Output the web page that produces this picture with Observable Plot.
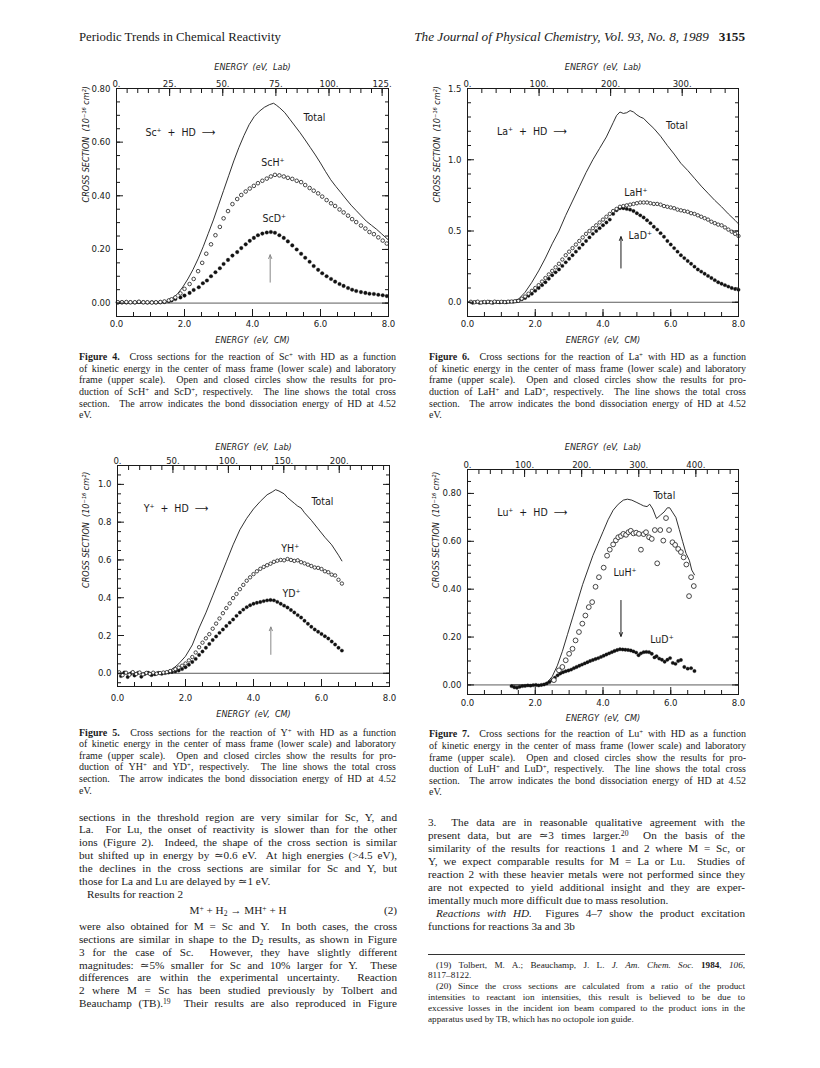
<!DOCTYPE html>
<html lang="en"><head><meta charset="utf-8"><title>Periodic Trends in Chemical Reactivity</title>
<script src="https://cdn.jsdelivr.net/npm/d3@7"></script>
<script src="https://cdn.jsdelivr.net/npm/@observablehq/plot@0.6"></script>
<style>
html,body{margin:0;padding:0;background:#fff;}
#page{position:relative;width:820px;height:1068px;overflow:hidden;background:#fff;color:#1a1a1a;font-family:"Liberation Serif","DejaVu Serif",serif;}
.abs{position:absolute;}
.hdr{line-height:14px;white-space:nowrap;}
.cap{font-size:10px;line-height:11.65px;}
.txt{font-size:11.2px;line-height:12.9px;}
.fn{font-size:9.2px;line-height:10.8px;}
.cap div,.txt div,.fn div{text-align:justify;text-align-last:justify;white-space:normal;}
.cap div.last,.txt div.last,.fn div.last{text-align-last:left;}
.ind{padding-left:8px;}
sup{font-size:0.68em;vertical-align:0.45em;line-height:0;}
sub{font-size:0.68em;vertical-align:-0.2em;line-height:0;}
.plot{position:absolute;}
.plot svg{overflow:visible;}
</style></head>
<body><div id="page"></div>
<script>
// ---------- constants ----------
const HD_MASS = 3;
const SC_MASS = 45, Y_MASS = 89, LA_MASS = 139, LU_MASS = 175;

// ---------- Figure 4: Sc+ + HD ----------
const scLabMajor = [0, 25, 50, 75, 100, 125];
const scYTicks = [0, 0.2, 0.4, 0.6, 0.8];
const scTotal = [[0.0,0.0],[1.3,0.001],[1.5,0.006],[1.65,0.018],[1.8,0.035],[1.95,0.06],[2.1,0.09],[2.25,0.125],[2.4,0.165],[2.55,0.21],[2.7,0.26],[2.85,0.31],[3.0,0.365],[3.15,0.42],[3.3,0.475],[3.45,0.53],[3.6,0.58],[3.75,0.625],[3.9,0.665],[4.05,0.695],[4.2,0.715],[4.35,0.73],[4.5,0.74],[4.62,0.745],[4.7,0.738],[4.8,0.728],[4.95,0.71],[5.1,0.685],[5.25,0.66],[5.4,0.635],[5.55,0.608],[5.7,0.58],[5.85,0.552],[6.0,0.522],[6.15,0.49],[6.3,0.46],[6.45,0.435],[6.6,0.412],[6.75,0.388],[6.9,0.365],[7.05,0.345],[7.2,0.325],[7.35,0.305],[7.5,0.29],[7.65,0.275],[7.8,0.258],[8.0,0.235]];
const scOpen = [[0.04,0.003],[0.16,0.003],[0.29,0.004],[0.41,0.003],[0.54,0.003],[0.66,0.005],[0.79,0.003],[0.91,0.003],[1.04,0.002],[1.16,0.003],[1.29,0.004],[1.41,0.006],[1.54,0.01],[1.62,0.014],[1.73,0.021],[1.88,0.036],[2.00,0.053],[2.15,0.071],[2.27,0.09],[2.40,0.119],[2.52,0.15],[2.64,0.184],[2.78,0.219],[2.91,0.253],[3.04,0.284],[3.15,0.316],[3.28,0.343],[3.41,0.369],[3.55,0.388],[3.67,0.403],[3.80,0.416],[3.92,0.427],[4.04,0.437],[4.16,0.447],[4.29,0.456],[4.42,0.464],[4.54,0.472],[4.66,0.478],[4.79,0.476],[4.92,0.472],[5.04,0.467],[5.17,0.463],[5.30,0.456],[5.43,0.451],[5.55,0.44],[5.68,0.429],[5.80,0.419],[5.93,0.409],[6.05,0.397],[6.18,0.384],[6.31,0.372],[6.43,0.362],[6.56,0.349],[6.68,0.338],[6.81,0.326],[6.93,0.313],[7.05,0.302],[7.19,0.289],[7.32,0.278],[7.44,0.265],[7.57,0.257],[7.70,0.245],[7.83,0.233],[7.95,0.222]];
const scFilled = [[0.04,0.002],[0.16,0.003],[0.29,0.002],[0.41,0.003],[0.54,0.002],[0.66,0.004],[0.79,0.003],[0.91,0.002],[1.04,0.003],[1.16,0.002],[1.29,0.003],[1.41,0.004],[1.54,0.007],[1.62,0.01],[1.73,0.015],[1.88,0.021],[2.00,0.028],[2.15,0.038],[2.27,0.049],[2.42,0.059],[2.54,0.074],[2.66,0.084],[2.78,0.10],[2.91,0.115],[3.04,0.13],[3.15,0.146],[3.28,0.161],[3.41,0.177],[3.55,0.19],[3.67,0.205],[3.80,0.219],[3.92,0.232],[4.04,0.243],[4.16,0.253],[4.29,0.259],[4.42,0.263],[4.54,0.265],[4.66,0.262],[4.79,0.253],[4.92,0.243],[5.04,0.23],[5.17,0.215],[5.30,0.20],[5.43,0.184],[5.55,0.169],[5.68,0.154],[5.80,0.138],[5.93,0.124],[6.05,0.111],[6.18,0.10],[6.31,0.09],[6.43,0.08],[6.56,0.071],[6.68,0.064],[6.81,0.056],[6.93,0.05],[7.05,0.045],[7.19,0.041],[7.32,0.038],[7.44,0.035],[7.57,0.034],[7.70,0.031],[7.83,0.029],[7.95,0.026]];
const scArrow = [{x: 4.52, y1: 0.078, y2: 0.18}];
const scReaction = [{x: 0.85, y: 0.635, text: "Sc\u207A\u00A0\u00A0+\u00A0\u00A0HD\u00A0\u00A0\u27F6"}];
const scSpecies = [{x: 5.82, y: 0.69, text: "Total"}, {x: 4.6, y: 0.522, text: "ScH\u207A"}, {x: 4.64, y: 0.315, text: "ScD\u207A"}];

// ---------- Figure 6: La+ + HD ----------
const laLabMajor = [0, 100, 200, 300];
const laYTicks = [0, 0.5, 1.0, 1.5];
const laTotal = [[0.0,0.0],[1.3,0.0],[1.5,0.02],[1.7,0.07],[1.9,0.14],[2.1,0.22],[2.3,0.31],[2.5,0.41],[2.7,0.50],[2.9,0.61],[3.1,0.71],[3.3,0.81],[3.5,0.91],[3.7,1.00],[3.9,1.08],[4.1,1.16],[4.3,1.26],[4.4,1.31],[4.5,1.335],[4.6,1.325],[4.7,1.33],[4.8,1.345],[4.9,1.335],[5.0,1.315],[5.1,1.30],[5.2,1.29],[5.3,1.265],[5.5,1.22],[5.7,1.165],[5.9,1.10],[6.1,1.04],[6.3,0.975],[6.5,0.925],[6.7,0.87],[6.9,0.815],[7.1,0.765],[7.3,0.715],[7.5,0.67],[7.7,0.62],[7.9,0.575],[8.0,0.55]];
const laOpen = [[0.1,0.003],[0.2,0.0],[0.3,0.004],[0.4,-0.002],[0.5,0.002],[0.6,0.003],[0.7,-0.001],[0.8,0.004],[0.9,0.002],[1.0,0.003],[1.1,0.001],[1.2,0.004],[1.3,0.005],[1.4,0.007],[1.5,0.01],[1.6,0.025],[1.7,0.04],[1.8,0.06],[1.9,0.08],[2.0,0.10],[2.1,0.12],[2.2,0.145],[2.3,0.17],[2.4,0.195],[2.5,0.22],[2.6,0.245],[2.7,0.27],[2.8,0.30],[2.9,0.33],[3.0,0.355],[3.1,0.38],[3.2,0.405],[3.3,0.43],[3.4,0.455],[3.5,0.48],[3.6,0.50],[3.7,0.52],[3.8,0.54],[3.9,0.56],[4.0,0.58],[4.1,0.60],[4.2,0.62],[4.3,0.64],[4.4,0.655],[4.5,0.67],[4.6,0.675],[4.7,0.68],[4.8,0.685],[4.9,0.69],[5.0,0.695],[5.1,0.70],[5.2,0.70],[5.3,0.70],[5.4,0.695],[5.5,0.69],[5.6,0.69],[5.7,0.685],[5.8,0.675],[5.9,0.67],[6.0,0.665],[6.1,0.66],[6.2,0.65],[6.3,0.645],[6.4,0.64],[6.5,0.635],[6.6,0.625],[6.7,0.62],[6.8,0.61],[6.9,0.60],[7.0,0.59],[7.1,0.58],[7.2,0.565],[7.3,0.555],[7.4,0.545],[7.5,0.54],[7.6,0.525],[7.7,0.51],[7.8,0.495],[7.9,0.48],[8.0,0.465]];
const laFilled = [[0.15,-0.003],[0.25,0.001],[0.35,-0.004],[0.45,0.0],[0.55,-0.002],[0.65,0.002],[0.75,-0.003],[0.85,0.001],[0.95,-0.001],[1.05,0.002],[1.15,0.0],[1.25,0.003],[1.35,0.004],[1.45,0.008],[1.5,0.01],[1.6,0.02],[1.7,0.03],[1.8,0.045],[1.9,0.06],[2.0,0.08],[2.1,0.10],[2.2,0.12],[2.3,0.14],[2.4,0.165],[2.5,0.19],[2.6,0.21],[2.7,0.23],[2.8,0.255],[2.9,0.28],[3.0,0.305],[3.1,0.33],[3.2,0.355],[3.3,0.38],[3.4,0.405],[3.5,0.43],[3.6,0.455],[3.7,0.48],[3.8,0.50],[3.9,0.52],[4.0,0.54],[4.1,0.56],[4.2,0.58],[4.3,0.62],[4.4,0.645],[4.5,0.66],[4.6,0.66],[4.7,0.655],[4.8,0.65],[4.9,0.64],[5.0,0.625],[5.1,0.61],[5.2,0.595],[5.3,0.575],[5.4,0.555],[5.5,0.53],[5.6,0.51],[5.7,0.485],[5.8,0.46],[5.9,0.43],[6.0,0.405],[6.1,0.38],[6.2,0.355],[6.3,0.33],[6.4,0.31],[6.5,0.29],[6.6,0.27],[6.7,0.25],[6.8,0.23],[6.9,0.215],[7.0,0.20],[7.1,0.185],[7.2,0.17],[7.3,0.155],[7.4,0.14],[7.5,0.13],[7.6,0.12],[7.7,0.11],[7.8,0.10],[7.9,0.093],[8.0,0.088]];
const laArrow = [{x: 4.53, y1: 0.24, y2: 0.46}];
const laReaction = [{x: 0.87, y: 1.196, text: "La\u207A\u00A0\u00A0+\u00A0\u00A0HD\u00A0\u00A0\u27F6"}];
const laSpecies = [{x: 6.18, y: 1.24, text: "Total"}, {x: 4.97, y: 0.77, text: "LaH\u207A"}, {x: 5.1, y: 0.465, text: "LaD\u207A"}];

// ---------- Figure 5: Y+ + HD ----------
const yLabMajor = [0, 50, 100, 150, 200];
const yYTicks = [0, 0.2, 0.4, 0.6, 0.8, 1.0];
const yTotal = [[0.0,0.0],[1.4,0.0],[1.6,0.02],[1.8,0.05],[2.0,0.09],[2.2,0.15],[2.4,0.24],[2.6,0.32],[2.8,0.41],[3.0,0.50],[3.2,0.59],[3.4,0.68],[3.6,0.76],[3.8,0.82],[4.0,0.87],[4.2,0.91],[4.4,0.945],[4.55,0.96],[4.65,0.972],[4.75,0.965],[4.9,0.95],[5.0,0.93],[5.2,0.90],[5.3,0.885],[5.4,0.875],[5.5,0.85],[5.7,0.81],[5.9,0.765],[6.1,0.72],[6.3,0.68],[6.5,0.625],[6.6,0.595]];
const yOpen = [[0.05,0.005],[0.15,-0.01],[0.25,0.003],[0.35,-0.008],[0.45,0.006],[0.55,-0.004],[0.65,0.004],[0.75,-0.006],[0.85,0.002],[0.95,-0.003],[1.05,0.003],[1.15,-0.002],[1.25,0.001],[1.35,0.004],[1.45,0.006],[1.55,0.012],[1.65,0.018],[1.7,0.022],[1.8,0.03],[1.9,0.04],[2.0,0.052],[2.1,0.068],[2.2,0.086],[2.3,0.11],[2.4,0.138],[2.5,0.162],[2.6,0.185],[2.7,0.207],[2.8,0.236],[2.9,0.263],[3.0,0.29],[3.1,0.318],[3.2,0.345],[3.3,0.37],[3.4,0.398],[3.5,0.42],[3.6,0.445],[3.7,0.468],[3.8,0.49],[3.9,0.508],[4.0,0.525],[4.1,0.54],[4.2,0.553],[4.3,0.563],[4.4,0.572],[4.5,0.58],[4.6,0.59],[4.7,0.596],[4.8,0.6],[4.9,0.598],[5.0,0.605],[5.1,0.6],[5.2,0.595],[5.3,0.598],[5.4,0.588],[5.5,0.582],[5.6,0.575],[5.7,0.568],[5.8,0.56],[5.9,0.558],[6.0,0.552],[6.1,0.54],[6.2,0.535],[6.3,0.522],[6.4,0.518],[6.5,0.495],[6.6,0.475]];
const yFilled = [[0.1,-0.015],[0.2,0.004],[0.3,-0.02],[0.4,0.0],[0.5,-0.012],[0.6,0.002],[0.7,-0.018],[0.8,-0.004],[0.9,0.003],[1.0,-0.01],[1.1,-0.005],[1.2,0.002],[1.3,-0.003],[1.4,0.001],[1.5,0.004],[1.6,0.007],[1.7,0.01],[1.8,0.015],[1.9,0.022],[2.0,0.032],[2.1,0.045],[2.2,0.06],[2.3,0.076],[2.4,0.097],[2.5,0.115],[2.6,0.135],[2.7,0.155],[2.8,0.176],[2.9,0.195],[3.0,0.214],[3.1,0.232],[3.2,0.25],[3.3,0.268],[3.4,0.285],[3.5,0.304],[3.6,0.322],[3.7,0.337],[3.8,0.35],[3.9,0.36],[4.0,0.368],[4.1,0.373],[4.2,0.377],[4.3,0.382],[4.4,0.386],[4.5,0.388],[4.6,0.386],[4.7,0.378],[4.8,0.368],[4.9,0.358],[5.0,0.348],[5.1,0.335],[5.2,0.322],[5.3,0.308],[5.4,0.295],[5.5,0.278],[5.6,0.262],[5.7,0.246],[5.8,0.232],[5.9,0.22],[6.0,0.208],[6.1,0.196],[6.2,0.184],[6.3,0.168],[6.4,0.152],[6.5,0.135],[6.6,0.12]];
const yArrow = [{x: 4.51, y1: 0.10, y2: 0.245}];
const yReaction = [{x: 0.77, y: 0.873, text: "Y\u207A\u00A0\u00A0+\u00A0\u00A0HD\u00A0\u00A0\u27F6"}];
const ySpecies = [{x: 6.03, y: 0.908, text: "Total"}, {x: 5.08, y: 0.66, text: "YH\u207A"}, {x: 5.12, y: 0.42, text: "YD\u207A"}];

// ---------- Figure 7: Lu+ + HD ----------
const luLabMajor = [0, 100, 200, 300, 400];
const luYTicks = [0, 0.2, 0.4, 0.6, 0.8];
const luTotal = [[1.3,0.0],[2.2,0.0],[2.35,0.01],[2.5,0.035],[2.65,0.08],[2.8,0.14],[2.95,0.21],[3.1,0.28],[3.25,0.35],[3.4,0.42],[3.55,0.48],[3.7,0.54],[3.85,0.59],[4.0,0.64],[4.15,0.69],[4.3,0.73],[4.45,0.755],[4.6,0.772],[4.72,0.776],[4.85,0.772],[5.0,0.762],[5.1,0.755],[5.2,0.748],[5.3,0.745],[5.38,0.755],[5.47,0.735],[5.58,0.695],[5.7,0.71],[5.8,0.722],[5.9,0.74],[5.97,0.74],[6.05,0.722],[6.15,0.70],[6.25,0.65],[6.35,0.60],[6.45,0.55],[6.55,0.52],[6.62,0.48],[6.7,0.46]];
const luOpen = [[2.55,0.02],[2.7,0.061],[2.8,0.075],[2.9,0.103],[3.0,0.13],[3.1,0.151],[3.19,0.186],[3.29,0.221],[3.39,0.256],[3.48,0.29],[3.58,0.325],[3.68,0.346],[3.78,0.41],[3.88,0.45],[4.02,0.49],[4.12,0.54],[4.2,0.565],[4.3,0.587],[4.38,0.604],[4.45,0.617],[4.53,0.622],[4.6,0.631],[4.68,0.627],[4.75,0.638],[4.82,0.644],[4.9,0.633],[4.98,0.636],[5.06,0.631],[5.12,0.565],[5.2,0.63],[5.27,0.638],[5.36,0.617],[5.44,0.61],[5.53,0.647],[5.6,0.508],[5.69,0.647],[5.78,0.603],[5.86,0.697],[5.95,0.647],[6.05,0.596],[6.13,0.585],[6.22,0.568],[6.3,0.555],[6.38,0.533],[6.46,0.503],[6.54,0.371],[6.6,0.45],[6.68,0.413]];
const luFilled = [[1.30,-0.005],[1.38,-0.01],[1.46,-0.012],[1.54,-0.008],[1.62,-0.005],[1.70,-0.004],[1.78,-0.002],[1.86,-0.003],[1.94,-0.001],[2.02,0.0],[2.10,-0.002],[2.18,0.0],[2.26,0.002],[2.34,0.006],[2.42,0.012],[2.50,0.02],[2.58,0.03],[2.66,0.04],[2.74,0.048],[2.82,0.053],[2.90,0.057],[2.98,0.06],[3.06,0.064],[3.14,0.07],[3.22,0.075],[3.30,0.08],[3.38,0.085],[3.46,0.09],[3.54,0.095],[3.62,0.1],[3.70,0.104],[3.78,0.108],[3.86,0.112],[3.94,0.117],[4.02,0.122],[4.10,0.127],[4.18,0.132],[4.26,0.137],[4.34,0.142],[4.42,0.146],[4.50,0.149],[4.58,0.148],[4.66,0.147],[4.74,0.146],[4.82,0.144],[4.90,0.14],[4.98,0.135],[5.05,0.124],[5.12,0.132],[5.20,0.137],[5.28,0.138],[5.36,0.137],[5.44,0.13],[5.52,0.115],[5.58,0.12],[5.66,0.11],[5.74,0.105],[5.82,0.097],[5.90,0.105],[5.98,0.112],[6.06,0.092],[6.14,0.088],[6.22,0.1],[6.30,0.104],[6.40,0.075],[6.50,0.068],[6.60,0.07],[6.70,0.058]];
const luArrow = [{x: 4.53, y1: 0.353, y2: 0.203}];
const luReaction = [{x: 0.88, y: 0.72, text: "Lu\u207A\u00A0\u00A0+\u00A0\u00A0HD\u00A0\u00A0\u27F6"}];
const luSpecies = [{x: 5.81, y: 0.79, text: "Total"}, {x: 4.65, y: 0.47, text: "LuH\u207A"}, {x: 5.74, y: 0.19, text: "LuD\u207A"}];

// ---------- axis titles ----------
const LAB_TITLE = "ENERGY\u00A0\u00A0(eV,\u00A0\u00A0Lab)";
const CM_TITLE = "ENERGY\u00A0\u00A0(eV,\u00A0\u00A0CM)";
const Y_TITLE = "CROSS SECTION\u00A0\u00A0(10\u207B\u00B9\u2076\u00A0cm\u00B2)";

const PLOT_FONT = "'DejaVu Sans Condensed', 'DejaVu Sans', 'Liberation Sans', sans-serif";

function panel(c) {
  const fx = d => d[0], fy = d => d[1];
  const factor = (c.mass + HD_MASS) / HD_MASS;
  const labMax = 8 * factor;
  const labMinor = d3.range(0, labMax + 1e-9, c.labStep).map(v => v / factor);
  const yMinor = d3.range(Math.ceil(c.yDomain[0] / c.yStep - 1e-9) * c.yStep, c.yDomain[1] + 1e-9, c.yStep);
  const xMinor = d3.range(0, 8.0001, 0.5);
  const xMajor = [0, 2, 4, 6, 8];
  const blank = () => "";
  return Plot.plot({
    width: c.width, height: c.height,
    marginLeft: c.ml, marginRight: c.mr, marginTop: c.mt, marginBottom: c.mb,
    x: {domain: [0, 8]},
    y: {domain: c.yDomain},
    style: {fontFamily: PLOT_FONT, fontStretch: "condensed", fontSize: "9.5px", color: "#1a1a1a", background: "transparent", overflow: "visible"},
    marks: [
      Plot.ruleY([0], {stroke: "#333", strokeWidth: 0.8}),
      Plot.line(c.total, {x: fx, y: fy, stroke: "#1a1a1a", strokeWidth: 0.9}),
      Plot.dot(c.filled, {x: fx, y: fy, r: c.rf, fill: "#111", stroke: "#111", strokeWidth: 0.3}),
      Plot.dot(c.open, {x: fx, y: fy, r: c.ro, fill: "white", stroke: "#1a1a1a", strokeWidth: 0.8}),
      Plot.arrow(c.arrow, {x1: "x", x2: "x", y1: "y1", y2: "y2", stroke: c.arrowColor, strokeWidth: 1, headLength: 6, headAngle: 45}),
      Plot.text(c.reaction, {x: "x", y: "y", text: "text", textAnchor: "start", fontSize: 10.5}),
      Plot.text(c.species, {x: "x", y: "y", text: "text", textAnchor: "middle", fontSize: 10.5}),
      Plot.frame({stroke: "#1a1a1a", strokeWidth: 1}),
      // bottom axis (CM)
      Plot.axisX({anchor: "bottom", ticks: xMajor, tickFormat: d => d.toFixed(1), tickSize: -7, tickPadding: c.botPad, label: null}),
      Plot.axisX({anchor: "bottom", ticks: xMinor, tickFormat: blank, tickSize: -4, label: null}),
      // top axis (Lab)
      Plot.axisX({anchor: "top", ticks: c.labMajor.map(v => v / factor), tickFormat: d => `${Math.round(d * factor)}.`, tickSize: -7, tickPadding: 9, label: null}),
      Plot.axisX({anchor: "top", ticks: labMinor, tickFormat: blank, tickSize: -4, label: null}),
      // left / right axes
      Plot.axisY({anchor: "left", ticks: c.yMajor, tickFormat: c.yFmt, tickSize: -7, tickPadding: 13, label: null}),
      Plot.axisY({anchor: "left", ticks: yMinor, tickFormat: blank, tickSize: -4, label: null}),
      Plot.axisY({anchor: "right", ticks: c.yMajor, tickFormat: blank, tickSize: -7, label: null}),
      Plot.axisY({anchor: "right", ticks: yMinor, tickFormat: blank, tickSize: -4, label: null}),
      // titles
      Plot.text([LAB_TITLE], {text: d => d, frameAnchor: "top", dy: c.labDy, fontStyle: "italic", fontSize: 9}),
      Plot.text([CM_TITLE], {text: d => d, frameAnchor: "bottom", dy: c.cmDy, fontStyle: "italic", fontSize: 9}),
      Plot.text([Y_TITLE], {text: d => d, frameAnchor: "left", rotate: -90, dx: c.yTitleDx, dy: c.yTitleDy, fontStyle: "italic", fontSize: 9})
    ]
  });
}

const panels = [
  {left: 60, top: 50, width: 360, height: 300, ml: 56, mr: 32, mt: 38, mb: 34,
   mass: SC_MASS, labMajor: scLabMajor, labStep: 5, yDomain: [-0.05, 0.8], yMajor: scYTicks, yStep: 0.05, yFmt: d => d.toFixed(2),
   total: scTotal, open: scOpen, filled: scFilled, ro: 1.8, rf: 1.8, arrow: scArrow, arrowColor: "#888",
   reaction: scReaction, species: scSpecies, labDy: -25, cmDy: 26, botPad: 10.4, yTitleDx: -30, yTitleDy: 0},
  {left: 420, top: 50, width: 380, height: 300, ml: 47, mr: 62, mt: 38, mb: 34,
   mass: LA_MASS, labMajor: laLabMajor, labStep: 20, yDomain: [-0.1, 1.5], yMajor: laYTicks, yStep: 0.1, yFmt: d => d.toFixed(1),
   total: laTotal, open: laOpen, filled: laFilled, ro: 1.7, rf: 1.7, arrow: laArrow, arrowColor: "#1a1a1a",
   reaction: laReaction, species: laSpecies, labDy: -25, cmDy: 26, botPad: 10.4, yTitleDx: -30, yTitleDy: 0},
  {left: 60, top: 430, width: 360, height: 300, ml: 57, mr: 31, mt: 35, mb: 44,
   mass: Y_MASS, labMajor: yLabMajor, labStep: 10, yDomain: [-0.07, 1.1], yMajor: yYTicks, yStep: 0.05, yFmt: d => d.toFixed(1),
   total: yTotal, open: yOpen, filled: yFilled, ro: 1.7, rf: 1.7, arrow: yArrow, arrowColor: "#888",
   reaction: yReaction, species: ySpecies, labDy: -22, cmDy: 30, botPad: 15, yTitleDx: -31, yTitleDy: 12},
  {left: 420, top: 430, width: 380, height: 300, ml: 47, mr: 62, mt: 39, mb: 36,
   mass: LU_MASS, labMajor: luLabMajor, labStep: 20, yDomain: [-0.04, 0.9], yMajor: luYTicks, yStep: 0.05, yFmt: d => d.toFixed(2),
   total: luTotal, open: luOpen, filled: luFilled, ro: 2.4, rf: 1.7, arrow: luArrow, arrowColor: "#1a1a1a",
   reaction: luReaction, species: luSpecies, labDy: -26, cmDy: 26, botPad: 11.4, yTitleDx: -31, yTitleDy: 6}
];

const page = document.getElementById("page");
for (const c of panels) {
  const div = document.createElement("div");
  div.className = "plot";
  div.style.left = c.left + "px";
  div.style.top = c.top + "px";
  div.appendChild(panel(c));
  page.appendChild(div);
}

// ---------- page text ----------
function block(cls, left, top, width, lines) {
  const d = document.createElement("div");
  d.className = "abs " + cls;
  d.style.left = left + "px"; d.style.top = top + "px"; d.style.width = width + "px";
  d.innerHTML = lines.map(([html, kind]) => `<div class="${kind || ""}">${html}</div>`).join("");
  page.appendChild(d);
}
function caption(num, el, left, top) {
  block("cap", left, top, 317, [
    [`<b>Figure ${num}.</b>&nbsp; Cross sections for the reaction of ${el}<sup>+</sup> with HD as a function`],
    [`of kinetic energy in the center of mass frame (lower scale) and laboratory`],
    [`frame (upper scale).&nbsp; Open and closed circles show the results for pro-`],
    [`duction of ${el}H<sup>+</sup> and ${el}D<sup>+</sup>, respectively.&nbsp; The line shows the total cross`],
    [`section.&nbsp; The arrow indicates the bond dissociation energy of HD at 4.52`],
    [`eV.`, "last"]
  ]);
}

const hl = document.createElement("div");
hl.className = "abs hdr"; hl.style.left = "79px"; hl.style.top = "30px"; hl.style.fontSize = "12.8px";
hl.textContent = "Periodic Trends in Chemical Reactivity";
page.appendChild(hl);
const hr = document.createElement("div");
hr.className = "abs hdr"; hr.style.right = "75px"; hr.style.top = "30px"; hr.style.fontSize = "13.2px";
hr.innerHTML = "<i>The Journal of Physical Chemistry, Vol. 93, No. 8, 1989</i>&nbsp;&nbsp;&nbsp;<b>3155</b>";
page.appendChild(hr);

caption(4, "Sc", 79, 351);
caption(6, "La", 429, 351);
caption(5, "Y", 79, 726.5);
caption(7, "Lu", 429, 728.2);

block("txt", 79, 810.5, 318, [
  ["sections in the threshold region are very similar for Sc, Y, and"],
  ["La.&nbsp; For Lu, the onset of reactivity is slower than for the other"],
  ["ions (Figure 2).&nbsp; Indeed, the shape of the cross section is similar"],
  ["but shifted up in energy by \u22430.6 eV.&nbsp; At high energies (&gt;4.5 eV),"],
  ["the declines in the cross sections are similar for Sc and Y, but"],
  ["those for La and Lu are delayed by \u22431 eV.", "last"],
  ["Results for reaction 2", "last ind"]
]);
const eq = document.createElement("div");
eq.className = "abs txt"; eq.style.left = "79px"; eq.style.top = "903.5px"; eq.style.width = "318px";
eq.innerHTML = `<div style="text-align:center;text-align-last:center;position:relative">M<sup>+</sup> + H<sub>2</sub> \u2192 MH<sup>+</sup> + H<span style="position:absolute;right:0">(2)</span></div>`;
page.appendChild(eq);
block("txt", 79, 919.8, 318, [
  ["were also obtained for M = Sc and Y.&nbsp; In both cases, the cross"],
  ["sections are similar in shape to the D<sub>2</sub> results, as shown in Figure"],
  ["3 for the case of Sc.&nbsp; However, they have slightly different"],
  ["magnitudes: \u22435% smaller for Sc and 10% larger for Y.&nbsp; These"],
  ["differences are within the experimental uncertainty.&nbsp; Reaction"],
  ["2 where M = Sc has been studied previously by Tolbert and"],
  ["Beauchamp (TB).<sup>19</sup>&nbsp; Their results are also reproduced in Figure"]
]);

block("txt", 428, 816.4, 317, [
  ["3.&nbsp; The data are in reasonable qualitative agreement with the"],
  ["present data, but are \u22433 times larger.<sup>20</sup>&nbsp; On the basis of the"],
  ["similarity of the results for reactions 1 and 2 where M = Sc, or"],
  ["Y, we expect comparable results for M = La or Lu.&nbsp; Studies of"],
  ["reaction 2 with these heavier metals were not performed since they"],
  ["are not expected to yield additional insight and they are exper-"],
  ["imentally much more difficult due to mass resolution.", "last"],
  ["<i>Reactions with HD.</i>&nbsp; Figures 4\u20137 show the product excitation", "ind"],
  ["functions for reactions 3a and 3b", "last"]
]);
const rule = document.createElement("div");
rule.className = "abs"; rule.style.left = "428px"; rule.style.top = "953.5px"; rule.style.width = "317px"; rule.style.borderTop = "1px solid #333";
page.appendChild(rule);
block("fn", 428, 959.6, 317, [
  ["(19) Tolbert, M. A.; Beauchamp, J. L. <i>J. Am. Chem. Soc.</i> <b>1984</b>, <i>106</i>,", "ind"],
  ["8117\u20138122.", "last"],
  ["(20) Since the cross sections are calculated from a ratio of the product", "ind"],
  ["intensities to reactant ion intensities, this result is believed to be due to"],
  ["excessive losses in the incident ion beam compared to the product ions in the"],
  ["apparatus used by TB, which has no octopole ion guide.", "last"]
]);
</script>
</body></html>
